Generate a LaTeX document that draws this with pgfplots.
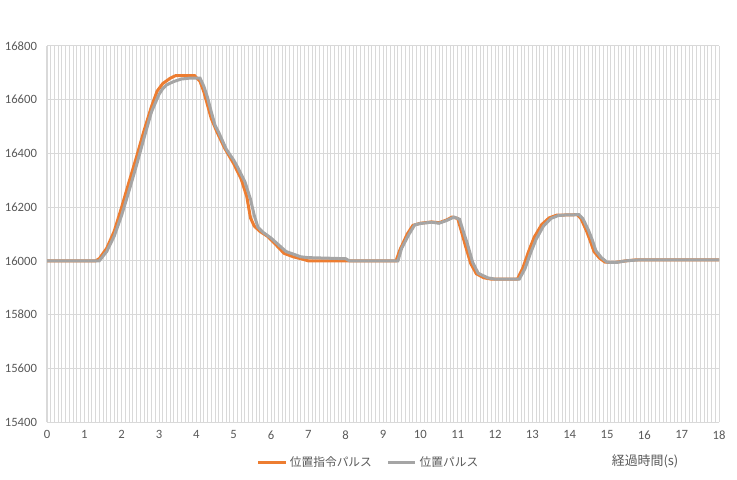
\documentclass[border=0pt]{standalone}
\usepackage{fontspec}
\setmainfont{Carlito}
\newfontfamily\jp{Noto Sans CJK JP}
\usepackage{pgfplots}
\pgfplotsset{compat=1.18}
\definecolor{cmdorange}{HTML}{ED7D31}
\definecolor{posgray}{HTML}{A5A5A5}
\definecolor{gridc}{HTML}{D9D9D9}
\definecolor{txt}{HTML}{595959}

\begin{document}
\begin{tikzpicture}
\useasboundingbox (0,0) rectangle (552.75pt,359.25pt);
\begin{axis}[
  at={(35.25pt,42.75pt)}, anchor=south west,
  scale only axis, width=504pt, height=282pt,
  xmin=0, xmax=18, ymin=15400, ymax=16800,
  xtick distance=1, ytick distance=200,
  scaled y ticks=false,
  minor x tick num=9,
  xmajorgrids, xminorgrids, ymajorgrids,
  grid style={gridc, line width=0.75pt},
  minor grid style={gridc, line width=0.75pt},
  axis line style={draw=none},
  major tick length=0, minor tick length=0,
  tick label style={text=txt, font=\fontsize{9.5}{11}\selectfont},
  /pgf/number format/assume math mode=true,
  /pgf/number format/1000 sep={},
  yticklabel style={xshift=-4pt},
  xticklabel style={yshift=-3pt},
  xlabel={\jp 経過時間(s)},
  xlabel style={at={(axis description cs:0.89,-0.104)}, anchor=center, text=txt, font=\fontsize{9.7}{11}\selectfont},
  legend columns=2,
  legend style={at={(0.479,-0.109)}, anchor=center, draw=none, fill=none,
    font=\jp\fontsize{8.8}{11}\selectfont, text=txt,
    /tikz/every even column/.append style={column sep=9pt}},
  legend image code/.code={\draw[#1, line width=2.25pt] (0cm,0cm) -- (0.72cm,0cm);},
]
\addplot[cmdorange, line width=2.25pt] coordinates {
(0,16000) (1.3,16000) (1.4,16008) (1.6,16047) (1.8,16110) (2.0,16200)
(2.2,16295) (2.4,16388) (2.6,16485) (2.8,16575) (2.95,16632) (3.1,16660)
(3.3,16680) (3.45,16690) (3.95,16690) (4.1,16668) (4.2,16630) (4.3,16580)
(4.4,16530) (4.55,16481) (4.75,16422) (5.0,16362) (5.2,16305) (5.35,16240)
(5.45,16160) (5.55,16130) (5.7,16110) (5.9,16092) (6.05,16072) (6.2,16050)
(6.35,16028) (6.6,16015) (6.8,16008) (7.0,16000) (8.0,16000) (9.35,16000)
(9.45,16040) (9.65,16100) (9.8,16132) (10.0,16140) (10.3,16145) (10.5,16142)
(10.7,16152) (10.85,16163) (11.0,16158) (11.1,16110) (11.2,16060) (11.35,15990)
(11.5,15952) (11.7,15937) (11.9,15932) (12.6,15932) (12.75,15975) (12.9,16035)
(13.05,16088) (13.25,16135) (13.45,16160) (13.65,16170) (14.2,16172) (14.3,16158)
(14.45,16112) (14.55,16075) (14.65,16035) (14.8,16010) (14.95,15995) (15.2,15994)
(15.5,16000) (15.8,16004) (18.0,16004)
};
\addlegendentry{位置指令パルス}
\addplot[posgray, line width=2.25pt] coordinates {
(0,16000) (1.4,16000) (1.6,16035) (1.8,16092) (2.0,16170) (2.2,16262)
(2.4,16357) (2.6,16458) (2.8,16555) (3.0,16620) (3.1,16641) (3.2,16655)
(3.4,16668) (3.6,16677) (3.8,16680) (4.1,16680) (4.2,16650) (4.3,16608)
(4.4,16555) (4.5,16505) (4.6,16478) (4.8,16416) (5.0,16375) (5.1,16350)
(5.3,16295) (5.45,16230) (5.55,16170) (5.65,16125) (5.8,16105) (6.0,16085)
(6.2,16060) (6.4,16035) (6.6,16025) (6.8,16015) (7.0,16012) (7.5,16010)
(8.0,16008) (8.1,16000) (9.4,16000) (9.5,16047) (9.7,16100) (9.85,16134)
(10.0,16139) (10.3,16144) (10.5,16140) (10.7,16150) (10.9,16163) (11.05,16155)
(11.15,16110) (11.25,16068) (11.4,15995) (11.55,15954) (11.8,15937) (12.0,15932)
(12.65,15932) (12.8,15970) (12.95,16028) (13.1,16080) (13.3,16130) (13.5,16158)
(13.7,16169) (13.9,16171) (14.25,16172) (14.35,16158) (14.5,16115) (14.6,16080)
(14.7,16038) (14.85,16012) (15.0,15995) (15.25,15994) (15.5,16000) (15.9,16004)
(18.0,16004)
};
\addlegendentry{位置パルス}
\end{axis}
\end{tikzpicture}
\end{document}
